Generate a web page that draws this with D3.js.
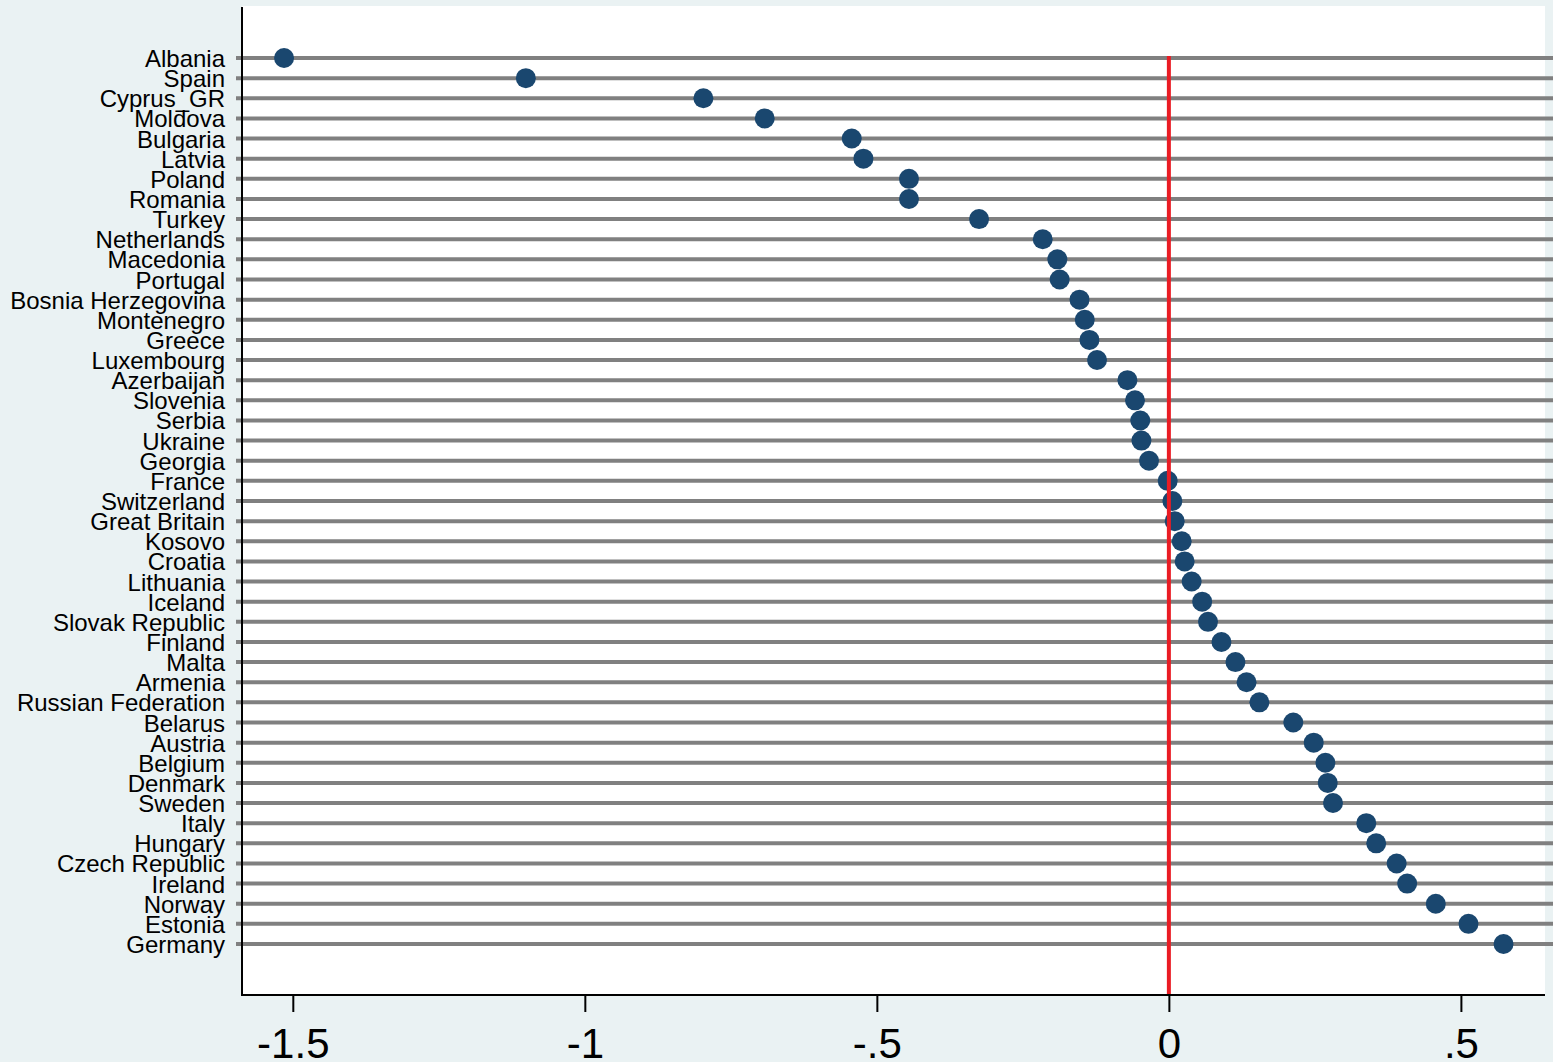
<!DOCTYPE html>
<html>
<head>
<meta charset="utf-8">
<script src="https://cdn.jsdelivr.net/npm/d3@7"></script>
<style>
  html, body { margin: 0; padding: 0; background: #eaf2f3; }
  svg { display: block; }
  text { font-family: "Liberation Sans", Arial, sans-serif; fill: #000; }
</style>
</head>
<body>
<script>
const countries = ["Albania","Spain","Cyprus_GR","Moldova","Bulgaria","Latvia","Poland","Romania","Turkey","Netherlands","Macedonia","Portugal","Bosnia Herzegovina","Montenegro","Greece","Luxembourg","Azerbaijan","Slovenia","Serbia","Ukraine","Georgia","France","Switzerland","Great Britain","Kosovo","Croatia","Lithuania","Iceland","Slovak Republic","Finland","Malta","Armenia","Russian Federation","Belarus","Austria","Belgium","Denmark","Sweden","Italy","Hungary","Czech Republic","Ireland","Norway","Estonia","Germany"];
const values = [-1.515,-1.101,-0.797,-0.692,-0.543,-0.523,-0.445,-0.445,-0.325,-0.216,-0.191,-0.187,-0.153,-0.144,-0.136,-0.123,-0.071,-0.058,-0.049,-0.047,-0.034,-0.002,0.006,0.010,0.022,0.027,0.039,0.057,0.067,0.090,0.114,0.133,0.155,0.213,0.248,0.268,0.272,0.281,0.338,0.355,0.390,0.408,0.457,0.513,0.573];
const xTicks = [-1.5,-1,-0.5,0,0.5];
const xTickLabels = ["-1.5","-1","-.5","0",".5"];
const xDomain = [-1.587, 0.644];
const refValue = 0;

(function () {
const W = 1553, H = 1062;
const svg = d3.select("body").append("svg").attr("width", W).attr("height", H);

const pL = 242, pR = 1545, pT = 6, pB = 995;
const x = d3.scaleLinear().domain(xDomain).range([pL, pR]);
const y = d3.scalePoint().domain(countries).range([58, 944]);

// background
svg.append("rect").attr("width", W).attr("height", H).attr("fill", "#eaf2f3");
svg.append("rect").attr("x", pL).attr("y", pT).attr("width", pR - pL).attr("height", pB - pT).attr("fill", "#ffffff");

// horizontal lines
svg.append("g").selectAll("line").data(countries).join("line")
  .attr("x1", pL - 6).attr("x2", W)
  .attr("y1", d => y(d)).attr("y2", d => y(d))
  .attr("stroke", "#808080").attr("stroke-width", 4);

// country labels
svg.append("g").selectAll("text").data(countries).join("text")
  .attr("x", 225).attr("y", d => y(d) + 9)
  .attr("text-anchor", "end").attr("font-size", 24)
  .text(d => d);

// dots
svg.append("g").selectAll("circle").data(countries).join("circle")
  .attr("cx", (d, i) => x(values[i])).attr("cy", d => y(d))
  .attr("r", 10).attr("fill", "#1a476f");

// reference line
svg.append("line")
  .attr("x1", x(refValue)).attr("x2", x(refValue))
  .attr("y1", y(countries[0]) - 2).attr("y2", pB)
  .attr("stroke", "#ea1c24").attr("stroke-width", 4);

// axes
const xAxis = d3.axisBottom(x).tickValues(xTicks).tickSize(17).tickPadding(0)
  .tickFormat((d, i) => xTickLabels[i]);
const gx = svg.append("g").attr("transform", `translate(0,${pB})`).call(xAxis);
gx.select(".domain").remove();
gx.selectAll(".tick line").attr("stroke", "#000").attr("stroke-width", 2);
gx.selectAll(".tick text").attr("font-size", 42).attr("dy", null).attr("y", 63)
  .attr("font-family", "'Liberation Sans', Arial, sans-serif").attr("fill", "#000");

svg.append("line").attr("x1", pL).attr("x2", pR).attr("y1", pB).attr("y2", pB)
  .attr("stroke", "#000").attr("stroke-width", 2);
svg.append("line").attr("x1", pL).attr("x2", pL).attr("y1", pT + 1).attr("y2", pB + 1)
  .attr("stroke", "#000").attr("stroke-width", 2);
})();
</script>
</body>
</html>
